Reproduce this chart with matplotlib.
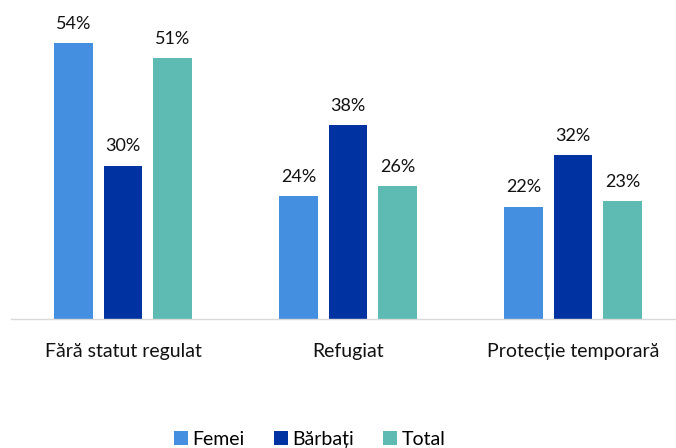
import matplotlib
matplotlib.use("Agg")
from matplotlib import pyplot as plt
import numpy as np

categories = ["Fără statut regulat", "Refugiat", "Protecție temporară"]
femei = [54, 24, 22]
barbati = [30, 38, 32]
total = [51, 26, 23]
series_names = ["Femei", "Bărbați", "Total"]
colors = ["#448FE0", "#0033A1", "#5DBBB4"]

plt.rcParams['font.family'] = ['Lato', 'DejaVu Sans']

fig = plt.figure(figsize=(6.76, 4.48), dpi=100)
ax = fig.add_axes([10.5 / 676, 129 / 448, 675 / 676, 306.6 / 448])

x = np.arange(len(categories))
w = 0.173
off = 0.22
for i, (vals, name, c) in enumerate(zip([femei, barbati, total], series_names, colors)):
    pos = x + (i - 1) * off
    ax.bar(pos, vals, w, color=c, label=name)
    for p, v in zip(pos, vals):
        ax.text(p, v + 2.2, f"{v}%", ha="center", va="bottom", fontsize=13, color="#111111")

ax.set_xlim(-0.5, 2.5)
ax.set_ylim(0, 60)
ax.set_yticks([])
ax.set_xticks(x)
ax.set_xticklabels(categories, fontsize=14, color="#111111")
ax.tick_params(axis="x", length=0, pad=17)
for s in ["top", "right", "left"]:
    ax.spines[s].set_visible(False)
ax.spines["bottom"].set_color("#D9D9D9")
ax.spines["bottom"].set_linewidth(1)

fig.legend(loc="center", bbox_to_anchor=(310 / 676, 9 / 448), ncol=3, frameon=False,
           fontsize=14, handlelength=0.7, handleheight=0.7, handletextpad=0.25, columnspacing=1.5)

fig.savefig("out.png", dpi=100)
